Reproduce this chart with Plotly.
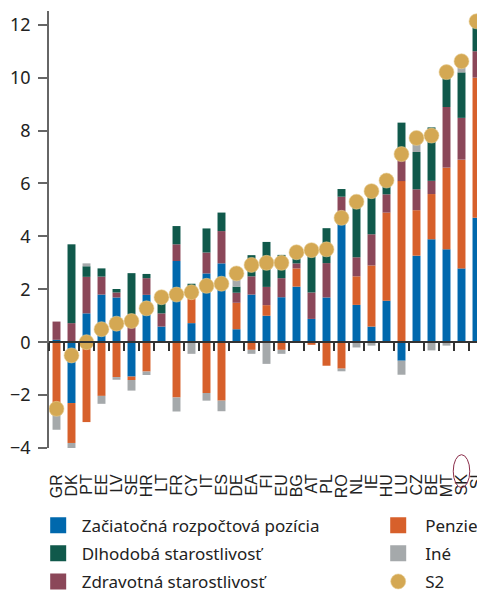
import plotly.graph_objects as go

countries = ["GR","DK","PT","EE","LV","SE","HR","LT","FR","CY","IT","ES","DE","EA","FI",
             "EU","BG","AT","PL","RO","NL","IE","HU","LU","CZ","BE","MT","SK","SI"]

zaciatocna = [0.09,-2.3,1.09,1.8,1.69,-1.3,1.79,0.59,3.07,0.72,2.6,2.98,0.49,1.8,1.0,
              1.7,2.1,0.88,1.69,4.47,1.41,0.59,1.57,-0.7,3.27,3.89,3.51,2.79,4.7]
penzie = [-2.74,-1.51,-3.02,-2.03,-1.32,-0.13,-1.11,0,-2.09,0.95,-1.92,-2.21,1.0,-0.29,0.4,
          -0.29,0.69,-0.1,-0.89,-1.0,1.08,2.31,3.33,6.09,1.72,1.71,3.09,4.11,5.3]
zdravotna = [0.69,0.72,1.38,0.68,0.19,1.06,0.63,0.5,0.63,0.2,0.79,1.22,0.38,0.69,0.69,
             0.72,0.19,1.0,1.3,1.03,0.72,1.18,0.69,0.79,0.79,0.5,2.29,1.58,1.0]
dlhodoba = [0,2.98,0.4,0.31,0.13,1.55,0.16,0.57,0.69,0.34,0.91,0.7,0.23,0.8,1.7,
            0.88,0.42,1.67,1.32,0.29,2.3,1.76,0.52,1.42,1.41,2.02,1.46,1.72,1.13]
ine = [-0.57,-0.21,0.11,-0.3,-0.1,-0.4,-0.13,0,-0.53,-0.44,-0.29,-0.4,0.5,-0.15,-0.82,
       -0.15,0,0,0,-0.1,-0.2,-0.13,0,-0.53,0.5,-0.31,-0.13,0.4,0]
s2 = [-2.52,-0.5,0.0,0.49,0.7,0.8,1.28,1.7,1.8,1.89,2.13,2.21,2.6,2.92,3.0,
      3.0,3.4,3.48,3.51,4.7,5.31,5.71,6.11,7.11,7.72,7.81,10.21,10.62,12.13]

y_ticks = [-4,-2,0,2,4,6,8,10,12]
y_range = [-4, 12.52]

C_BLUE = "#0068AD"
C_ORANGE = "#D7602B"
C_PURPLE = "#8B4759"
C_GREEN = "#10594B"
C_GRAY = "#A5A9AB"
C_GOLD = "#D4A853"

series = [
    ("Začiatočná rozpočtová pozícia", zaciatocna, C_BLUE, "legend"),
    ("Penzie", penzie, C_ORANGE, "legend2"),
    ("Zdravotná starostlivosť", zdravotna, C_PURPLE, "legend"),
    ("Dlhodobá starostlivosť", dlhodoba, C_GREEN, "legend"),
    ("Iné", ine, C_GRAY, "legend2"),
]
legend_rank = {"Začiatočná rozpočtová pozícia": 1, "Dlhodobá starostlivosť": 2,
               "Zdravotná starostlivosť": 3, "Penzie": 1, "Iné": 2}

fig = go.Figure()
for name, vals, col, lg in series:
    fig.add_trace(go.Bar(x=countries, y=vals, name=name, marker_color=col,
                         marker_line_width=0, showlegend=False, hoverinfo="skip"))
# legend entries (square markers)
for name, vals, col, lg in series:
    fig.add_trace(go.Scatter(x=[None], y=[None], mode="markers", name=name,
                             marker=dict(symbol="square", size=16, color=col),
                             legend=lg, legendrank=legend_rank[name],
                             legendgroup=name))
fig.add_trace(go.Scatter(x=countries, y=s2, mode="markers", name="S2",
                         marker=dict(size=15, color=C_GOLD, line=dict(width=0.6, color="#E8CF95")),
                         legend="legend2", legendrank=3, legendgroup="S2", hoverinfo="skip"))
# invisible trace for the zero-line axis
fig.add_trace(go.Scatter(x=countries, y=[0]*len(countries), xaxis="x2", mode="markers",
                         marker=dict(opacity=0), showlegend=False, hoverinfo="skip"))

zero_pos = (0 - y_range[0]) / (y_range[1] - y_range[0])
sk = countries.index("SK")
x_range = [-0.5, len(countries) - 0.5]

# page is offset by the 8px body margin of the html page
fig.update_layout(
    width=477, height=584,
    margin=dict(l=41, r=1, t=3, b=144, autoexpand=False),
    paper_bgcolor="white", plot_bgcolor="white",
    barmode="relative", bargap=0.47,
    font=dict(family="Noto Sans", color="#222222"),
    xaxis=dict(type="category", range=x_range, categoryorder="array", categoryarray=countries,
               tickmode="array", tickvals=countries, ticktext=countries,
               showline=False, ticks="", automargin=False,
               showgrid=False, zeroline=False, tickangle=-90,
               tickfont=dict(family="Liberation Sans", size=16, color="#222222"),
               ticklabelstandoff=22),
    xaxis2=dict(type="category", overlaying="x", anchor="free", range=x_range,
                categoryorder="array", categoryarray=countries, automargin=False,
                position=zero_pos, showline=True, linecolor="#333333", linewidth=1.5,
                ticks="outside", ticklen=8, tickcolor="#333333", tickwidth=1.5,
                tickson="boundaries", showticklabels=False, showgrid=False, zeroline=False),
    yaxis=dict(range=y_range, tickvals=y_ticks, showline=True, linecolor="#666666",
               linewidth=1.5, ticks="outside", ticklen=9, tickcolor="#666666", tickwidth=1.5,
               showgrid=False, zeroline=False, tickfont=dict(size=18, color="#222222"),
               ticklabelstandoff=4, automargin=False),
    legend=dict(x=-0.0329, y=-59.7/437, itemwidth=37, maxheight=300,
                xanchor="left", yanchor="top", font=dict(size=17, color="#222222"),
                tracegroupgap=3, bgcolor="rgba(0,0,0,0)"),
    legend2=dict(x=0.7407, y=-59.7/437, itemwidth=44, maxheight=300,
                 xanchor="left", yanchor="top", font=dict(size=17, color="#222222"),
                 tracegroupgap=3, bgcolor="rgba(0,0,0,0)"),
    shapes=[dict(type="circle", xref="x", yref="paper", x0=sk-0.55, x1=sk+0.55,
                 y0=-0.0153, y1=-0.0908, line=dict(color="#8B2D4A", width=1))],
)

fig.write_html("out.html")
